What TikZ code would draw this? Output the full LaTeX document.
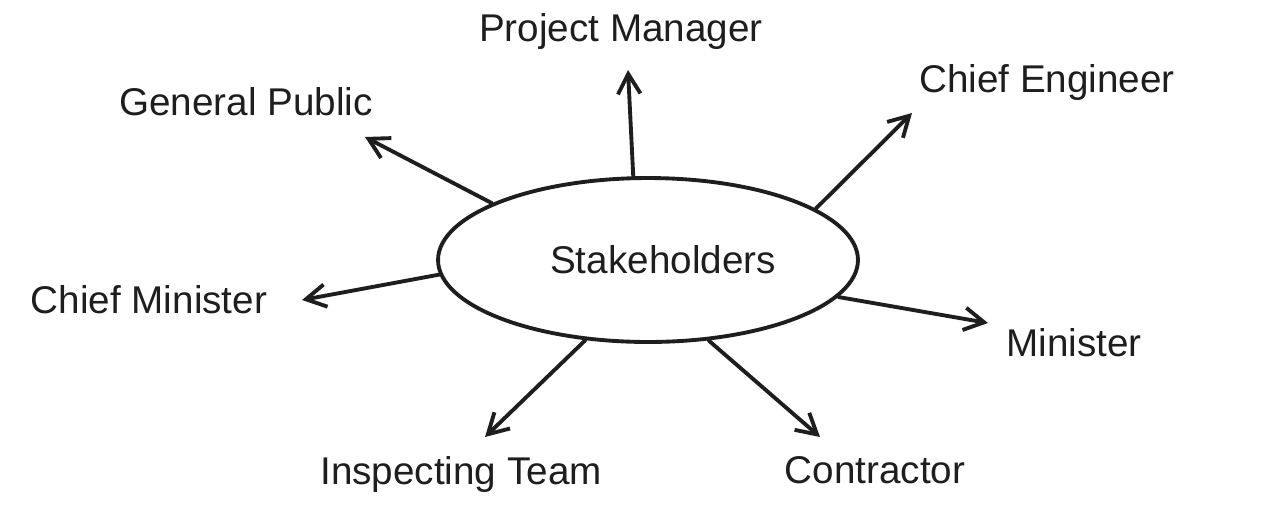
\documentclass[tikz,border=0pt]{standalone}
\usepackage{fontspec}
\setmainfont{Liberation Sans}
\usetikzlibrary{arrows.meta}
\usetikzlibrary{shapes.geometric}
\definecolor{ink}{RGB}{30,30,30}

\begin{document}
\begin{tikzpicture}[x=0.02cm,y=-0.02cm,>/.tip={Straight Barb[length=4mm,width=4.5mm]},
	every node/.style={text=ink,font=\fontsize{22}{26}\selectfont},
	spoke/.style={->,draw=ink,line width=2.2pt,line cap=round,line join=round}]
	\useasboundingbox (0,0) rectangle (1264,508);
	\draw (648,260) node (sh) [draw=ink,line width=2.2pt,shape=ellipse,inner sep=0pt,minimum width=8.4cm,minimum height=3.28cm] {\hspace*{0.6cm}Stakeholders};

	\draw (621,32) node (pm) {Project Manager};
	\draw (246,102) node (gp) {General Public};
	\draw (1047,82) node (ce) {Chief Engineer};
	\draw (149,300) node (cm) {Chief Minister};
	\draw (1074,343) node (min) {Minister};
	\draw (461,474) node (it) {Inspecting Team};
	\draw (875,470) node (con) {Contractor};

	\coordinate (pmtip) at (628,70);
	\coordinate (gptip) at (365,137);
	\coordinate (cetip) at (912,113);
	\coordinate (cmtip) at (302,300);
	\coordinate (mintip) at (988,323);
	\coordinate (ittip) at (485,437);
	\coordinate (contip) at (820,437);

	\draw[spoke] (sh.100) -- (pmtip);
	\draw[spoke] (sh.160) -- (gptip);
	\draw[spoke] (sh.17) -- (cetip);
	\draw[spoke] (sh.184) -- (cmtip);
	\draw[spoke] (sh.-11) -- (mintip);
	\draw[spoke] (sh.232) -- (ittip);
	\draw[spoke] (sh.307) -- (contip);
\end{tikzpicture}
\end{document}
